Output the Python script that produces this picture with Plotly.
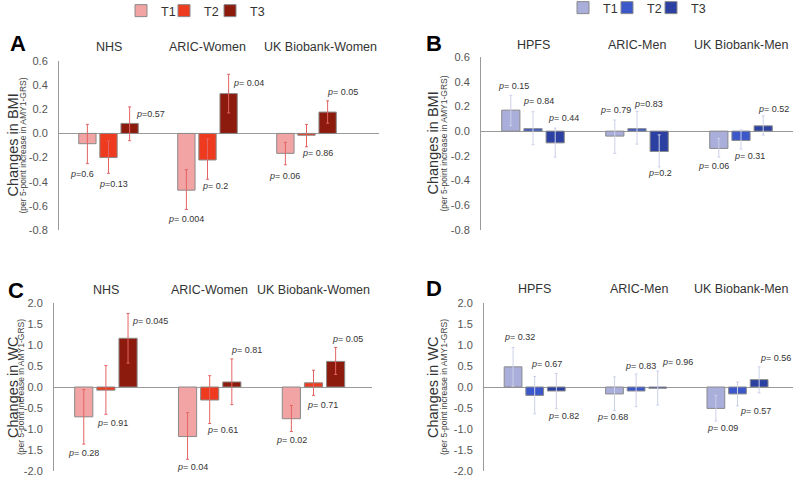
import plotly.graph_objects as go

W, H = 799, 478
FONT = "Liberation Sans, Arial, sans-serif"

# ---------------- data ----------------
tertiles = ["T1", "T2", "T3"]
women_cohorts = ["NHS", "ARIC-Women", "UK Biobank-Women"]
men_cohorts = ["HPFS", "ARIC-Men", "UK Biobank-Men"]

# Panel A: BMI, women  (rows = T1,T2,T3 ; columns = cohorts)
bmi_w = [[-0.085, -0.47, -0.165], [-0.20, -0.22, -0.015], [0.083, 0.33, 0.177]]
bmi_w_hi = [[0.075, -0.30, -0.074], [-0.063, -0.046, 0.075], [0.22, 0.49, 0.27]]
bmi_w_lo = [[-0.25, -0.63, -0.26], [-0.33, -0.38, -0.11], [-0.06, 0.17, 0.085]]
bmi_w_p = [["p=0.6", "p= 0.004", "p= 0.06"], ["p=0.13", "p= 0.2", "p= 0.86"], ["p=0.57", "p= 0.04", "p= 0.05"]]

# Panel B: BMI, men
bmi_m = [[0.17, -0.04, -0.14], [0.02, 0.02, -0.075], [-0.095, -0.165, 0.043]]
bmi_m_hi = [[0.29, 0.09, -0.06], [0.157, 0.16, 0.01], [0.025, -0.03, 0.124]]
bmi_m_lo = [[0.045, -0.18, -0.21], [-0.11, -0.105, -0.145], [-0.21, -0.29, -0.032]]
bmi_m_p = [["p= 0.15", "p= 0.79", "p= 0.06"], ["p= 0.84", "p=0.83", "p= 0.31"], ["p= 0.44", "p=0.2", "p= 0.52"]]

# Panel C: WC, women
wc_w = [[-0.71, -1.18, -0.755], [-0.075, -0.31, 0.10], [1.16, 0.12, 0.61]]
wc_w_hi = [[-0.06, -0.61, -0.44], [0.51, 0.27, 0.40], [1.75, 0.67, 0.94]]
wc_w_lo = [[-1.36, -1.72, -1.06], [-0.65, -0.87, -0.20], [0.57, -0.42, 0.30]]
wc_w_p = [["p= 0.28", "p= 0.04", "p= 0.02"], ["p= 0.91", "p= 0.61", "p= 0.71"], ["p= 0.045", "p= 0.81", "p= 0.05"]]

# Panel D: WC, men
wc_m = [[0.48, -0.165, -0.51], [-0.20, -0.095, -0.165], [-0.095, -0.03, 0.175]]
wc_m_hi = [[0.94, 0.24, -0.20], [0.25, 0.31, 0.12], [0.32, 0.38, 0.48]]
wc_m_lo = [[0.02, -0.56, -0.81], [-0.64, -0.47, -0.45], [-0.52, -0.43, -0.14]]
wc_m_p = [["p= 0.32", "p= 0.68", "p= 0.09"], ["p= 0.67", "p= 0.83", "p= 0.57"], ["p= 0.82", "p= 0.96", "p= 0.56"]]

bmi_ticks = [0.6, 0.4, 0.2, 0.0, -0.2, -0.4, -0.6, -0.8]
bmi_ticktext = ["0.6", "0.4", "0.2", "0.0", "-0.2", "-0.4", "-0.6", "-0.8"]
wc_ticks = [2.0, 1.5, 1.0, 0.5, 0.0, -0.5, -1.0, -1.5, -2.0]
wc_ticktext = ["2.0", "1.5", "1.0", "0.5", "0.0", "-0.5", "-1.0", "-1.5", "-2.0"]

# ---------------- label placement (x offset px, y in data units) ----------------
pos_A = [[(-27, -0.34), (-22, -0.71), (-22, -0.35)],
         [(5, -0.42), (7, -0.436), (11, -0.16)],
         [(42, 0.158), (41, 0.415), (36, 0.34)]]
pos_B = [[(-20, 0.365), (-22, 0.173), (-28, -0.279)],
         [(5, 0.24), (11, 0.219), (8, -0.203)],
         [(30, 0.11), (23, -0.336), (32, 0.181)]]
pos_C = [[(-22, -1.58), (-17, -1.90), (-22, -1.25)],
         [(7, -0.85), (13, -1.03), (9, -0.44)],
         [(44, 1.57), (37, 0.89), (34, 1.145)]]
pos_D = [[(-15, 1.18), (-24, -0.71), (-15, -0.97)],
         [(12, 0.55), (4, 0.49), (18, -0.56)],
         [(29, -0.70), (41, 0.60), (38, 0.70)]]

red_cols = ["#F2A3A3", "#EE3B1F", "#8C1B0D"]
blue_cols = ["#A9AEDB", "#3B57C9", "#2B40A0"]
red_err = "#E46464"
blue_err = "#CDD1E8"

# legend entry positions (px): left x of each entry, top y
legA_x, legA_y = [121, 164, 210], -4
legB_x, legB_y = [563, 607, 651], -7

# panel geometry in pixels: (x0, x1, y_top, y_bottom)
panels = {
    "A": dict(px=(59, 379, 61, 230), cats=women_cohorts, vals=(bmi_w, bmi_w_hi, bmi_w_lo, bmi_w_p), pos=pos_A,
              cols=red_cols, err=red_err, rng=[-0.8, 0.6], ticks=(bmi_ticks, bmi_ticktext), title="Changes in BMI",
              letter=(18, 43), catlab_y=47, catshift=[0, 0, 14], ttl_x=(12, 22), leg=(1, legA_x, legA_y)),
    "B": dict(px=(481, 793, 57, 230), cats=men_cohorts, vals=(bmi_m, bmi_m_hi, bmi_m_lo, bmi_m_p), pos=pos_B,
              cols=blue_cols, err=blue_err, rng=[-0.8, 0.6], ticks=(bmi_ticks, bmi_ticktext), title="Changes in BMI",
              letter=(434, 43), catlab_y=45, catshift=[0, 0, 0], ttl_x=(432, 443), leg=(4, legB_x, legB_y)),
    "C": dict(px=(54, 372, 303, 471), cats=women_cohorts, vals=(wc_w, wc_w_hi, wc_w_lo, wc_w_p), pos=pos_C,
              cols=red_cols, err=red_err, rng=[-2.0, 2.0], ticks=(wc_ticks, wc_ticktext), title="Changes in WC",
              letter=(16, 290), catlab_y=290, catshift=[0, 0, 0], ttl_x=(13, 21), leg=None),
    "D": dict(px=(484, 793, 303, 471), cats=men_cohorts, vals=(wc_m, wc_m_hi, wc_m_lo, wc_m_p), pos=pos_D,
              cols=blue_cols, err=blue_err, rng=[-2.0, 2.0], ticks=(wc_ticks, wc_ticktext), title="Changes in WC",
              letter=(434, 288), catlab_y=289, catshift=[0, 3, 4], ttl_x=(433, 444), leg=None),
}

fig = go.Figure()
annotations = []
layout_extra = {}

for i, (key, p) in enumerate(panels.items(), start=1):
    sfx = "" if i == 1 else str(i)
    xr, yr = "x" + sfx, "y" + sfx
    x0, x1, yt, yb = p["px"]
    vals, his, los, ptxt = p["vals"]
    for t in range(3):
        v = vals[t]
        plus = [h - a for h, a in zip(his[t], v)]
        minus = [a - l for a, l in zip(v, los[t])]
        if p["leg"]:
            n0, lxs, ly = p["leg"]
            lid = "legend" if n0 + t == 1 else "legend%d" % (n0 + t)
            layout_extra[lid] = dict(orientation="h", x=lxs[t] / W, y=1 - ly / H, xanchor="left",
                                     yanchor="top", font=dict(size=12.5, color="#333333", family=FONT),
                                     itemwidth=30, bgcolor="rgba(0,0,0,0)")
        else:
            lid = "legend"
        fig.add_trace(go.Bar(
            x=p["cats"], y=v, name=tertiles[t], xaxis=xr, yaxis=yr,
            marker=dict(color=p["cols"][t], line=dict(color="#8a8a8a", width=1)),
            error_y=dict(type="data", symmetric=False, array=plus, arrayminus=minus,
                         color=p["err"], thickness=1, width=1.5),
            showlegend=p["leg"] is not None, legend=lid,
        ))
        for c in range(3):
            dx, yy = p["pos"][t][c]
            txt = ptxt[t][c].replace("p", "<i>p</i>", 1)
            annotations.append(dict(x=p["cats"][c], y=yy, xref=xr, yref=yr, xshift=dx, text=txt,
                                    showarrow=False, font=dict(size=9, color="#333333", family=FONT),
                                    xanchor="center", yanchor="middle"))
    layout_extra["xaxis" + sfx] = dict(domain=[x0 / W, x1 / W], anchor=yr, showline=False, showticklabels=False,
                                       ticks="", showgrid=False, zeroline=False, automargin=False)
    layout_extra["yaxis" + sfx] = dict(domain=[1 - yb / H, 1 - yt / H], anchor=xr, range=p["rng"],
                                       tickvals=p["ticks"][0], ticktext=p["ticks"][1], showgrid=False,
                                       showline=True, linecolor="#9a9a9a", linewidth=1,
                                       zeroline=True, zerolinecolor="#9a9a9a", zerolinewidth=1,
                                       ticks="outside", ticklen=8, tickcolor="rgba(0,0,0,0)",
                                       automargin=False,
                                       tickfont=dict(size=11, color="#555555", family=FONT))
    # category labels
    for c, cat in enumerate(p["cats"]):
        annotations.append(dict(x=cat, y=1 - p["catlab_y"] / H, xref=xr, yref="paper", text=cat,
                                xshift=p["catshift"][c],
                                showarrow=False, font=dict(size=12.5, color="#333333", family=FONT),
                                xanchor="center", yanchor="middle"))
    # panel letter
    lx, ly = p["letter"]
    annotations.append(dict(x=lx / W, y=1 - ly / H, xref="paper", yref="paper", text="<b>%s</b>" % key,
                            showarrow=False, font=dict(size=22, color="#000000", family=FONT),
                            xanchor="center", yanchor="middle"))
    # y titles
    yc = 1 - (yt + yb) / 2 / H
    tx1, tx2 = p["ttl_x"]
    annotations.append(dict(x=tx1 / W, y=yc, xref="paper", yref="paper", text=p["title"], textangle=-90,
                            showarrow=False, font=dict(size=14.5, color="#333333", family=FONT),
                            xanchor="center", yanchor="middle"))
    annotations.append(dict(x=tx2 / W, y=yc, xref="paper", yref="paper",
                            text="(per 5-point increase in AMY1-GRS)", textangle=-90,
                            showarrow=False, font=dict(size=8.5, color="#444444", family=FONT),
                            xanchor="center", yanchor="middle"))

fig.update_layout(
    width=W, height=H, margin=dict(l=0, r=0, t=0, b=0, autoexpand=False),
    paper_bgcolor="white", plot_bgcolor="white",
    barmode="group", bargap=0.36, bargroupgap=0.18,
    font=dict(family=FONT, color="#333333"),
    annotations=annotations,
    **layout_extra,
)

fig.write_html("out.html", config={"displayModeBar": False},
               post_script="document.body.style.margin='0';")
